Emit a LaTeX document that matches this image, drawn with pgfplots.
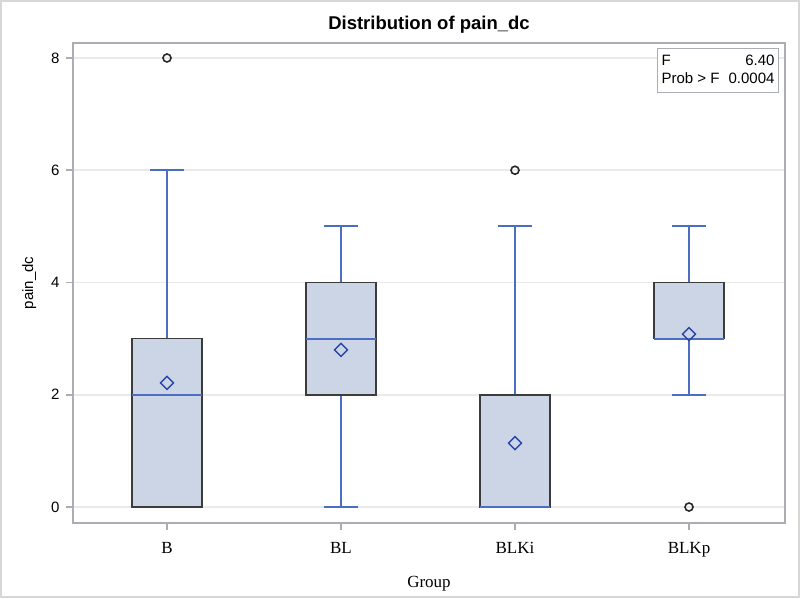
\documentclass[border=0pt]{standalone}
\usepackage{fontspec}
\setmainfont{Liberation Serif}
\newfontfamily\sas{Liberation Sans}
\usepackage{pgfplots}
\pgfplotsset{compat=1.18}
\usepgfplotslibrary{statistics}
\usetikzlibrary{plotmarks}
\definecolor{boxfill}{RGB}{203,213,229}
\definecolor{boxedge}{RGB}{60,60,60}
\definecolor{whisk}{RGB}{75,110,195}
\definecolor{meanc}{RGB}{40,70,170}
\definecolor{axisgray}{RGB}{170,174,178}
\definecolor{gridgray}{RGB}{234,234,234}
\definecolor{framegray}{RGB}{215,215,215}
\pgfdeclareplotmark{sasdiamond}{%
  \pgfpathmoveto{\pgfqpoint{0pt}{\pgfplotmarksize}}%
  \pgfpathlineto{\pgfqpoint{\pgfplotmarksize}{0pt}}%
  \pgfpathlineto{\pgfqpoint{0pt}{-\pgfplotmarksize}}%
  \pgfpathlineto{\pgfqpoint{-\pgfplotmarksize}{0pt}}%
  \pgfpathclose\pgfusepathqstroke}
\begin{document}
\begin{tikzpicture}[x=1pt,y=1pt]
\useasboundingbox (-73,-75) rectangle (727,523);
\draw[draw=framegray, line width=2pt] (-72,-74) rectangle (726,522);
\begin{axis}[
 scale only axis, width=712pt, height=480pt,
 xmin=0.45977, xmax=4.55172, ymin=-0.285, ymax=8.267,
 xtick={1,2,3,4}, xticklabels={B,BL,BLKi,BLKp},
 ytick={0,2,4,6,8},
 ymajorgrids, grid style={draw=gridgray, line width=1.5pt},
 axis line style={draw=axisgray, line width=1.5pt},
 tick style={draw=axisgray, line width=1.5pt},
 tick align=outside, major tick length=7pt,
 xtick pos=bottom, ytick pos=left,
 xticklabel style={font=\fontsize{17}{20}\selectfont, yshift=-9pt},
 yticklabel style={font=\sas\fontsize{15}{18}\selectfont, xshift=-3pt},
 /pgf/number format/assume math mode=true,
 ylabel={pain\_dc}, ylabel style={font=\sas\fontsize{15}{18}\selectfont, yshift=8pt},
 xlabel={Group}, xlabel style={font=\fontsize{17}{20}\selectfont, yshift=-12pt},
 boxplot/draw direction=y,
 boxplot/every box/.style={draw=boxedge, fill=boxfill, line width=1.6pt},
 boxplot/every whisker/.style={draw=whisk, line width=1.8pt},
 boxplot/every median/.style={draw=whisk, line width=1.8pt},
 boxplot/box extend=0.4, boxplot/whisker extend=0.2,
]
\addplot[whisk, line width=1.8pt,
  boxplot prepared={draw position=1, lower whisker=0, lower quartile=0, median=2, upper quartile=3, upper whisker=6}]
  coordinates {};
\addplot[whisk, line width=1.8pt,
  boxplot prepared={draw position=2, lower whisker=0, lower quartile=2, median=3, upper quartile=4, upper whisker=5}]
  coordinates {};
\addplot[whisk, line width=1.8pt,
  boxplot prepared={draw position=3, lower whisker=0, lower quartile=0, median=0, upper quartile=2, upper whisker=5}]
  coordinates {};
\addplot[whisk, line width=1.8pt,
  boxplot prepared={draw position=4, lower whisker=2, lower quartile=3, median=3, upper quartile=4, upper whisker=5}]
  coordinates {};
% means
\addplot[only marks, mark=sasdiamond, mark size=6.5pt, color=meanc, line width=1.4pt]
  coordinates {(1,2.21) (2,2.80) (3,1.14) (4,3.08)};
% outliers
\addplot[only marks, mark=o, mark size=4pt, color=black!85, line width=1.6pt]
  coordinates {(1,8) (3,6) (4,0)};
\end{axis}
\node[font=\sas\bfseries\fontsize{18.5}{22}\selectfont] at (356,498) {Distribution of pain\_dc};
\node[draw=axisgray, line width=1pt, fill=white, anchor=north east, inner sep=4pt, font=\sas\fontsize{15}{18}\selectfont] at (706,475)
 {\begin{tabular*}{113pt}{@{}l@{\extracolsep{\fill}}r@{}}F & 6.40\\ Prob > F & 0.0004\end{tabular*}};
\end{tikzpicture}
\end{document}
